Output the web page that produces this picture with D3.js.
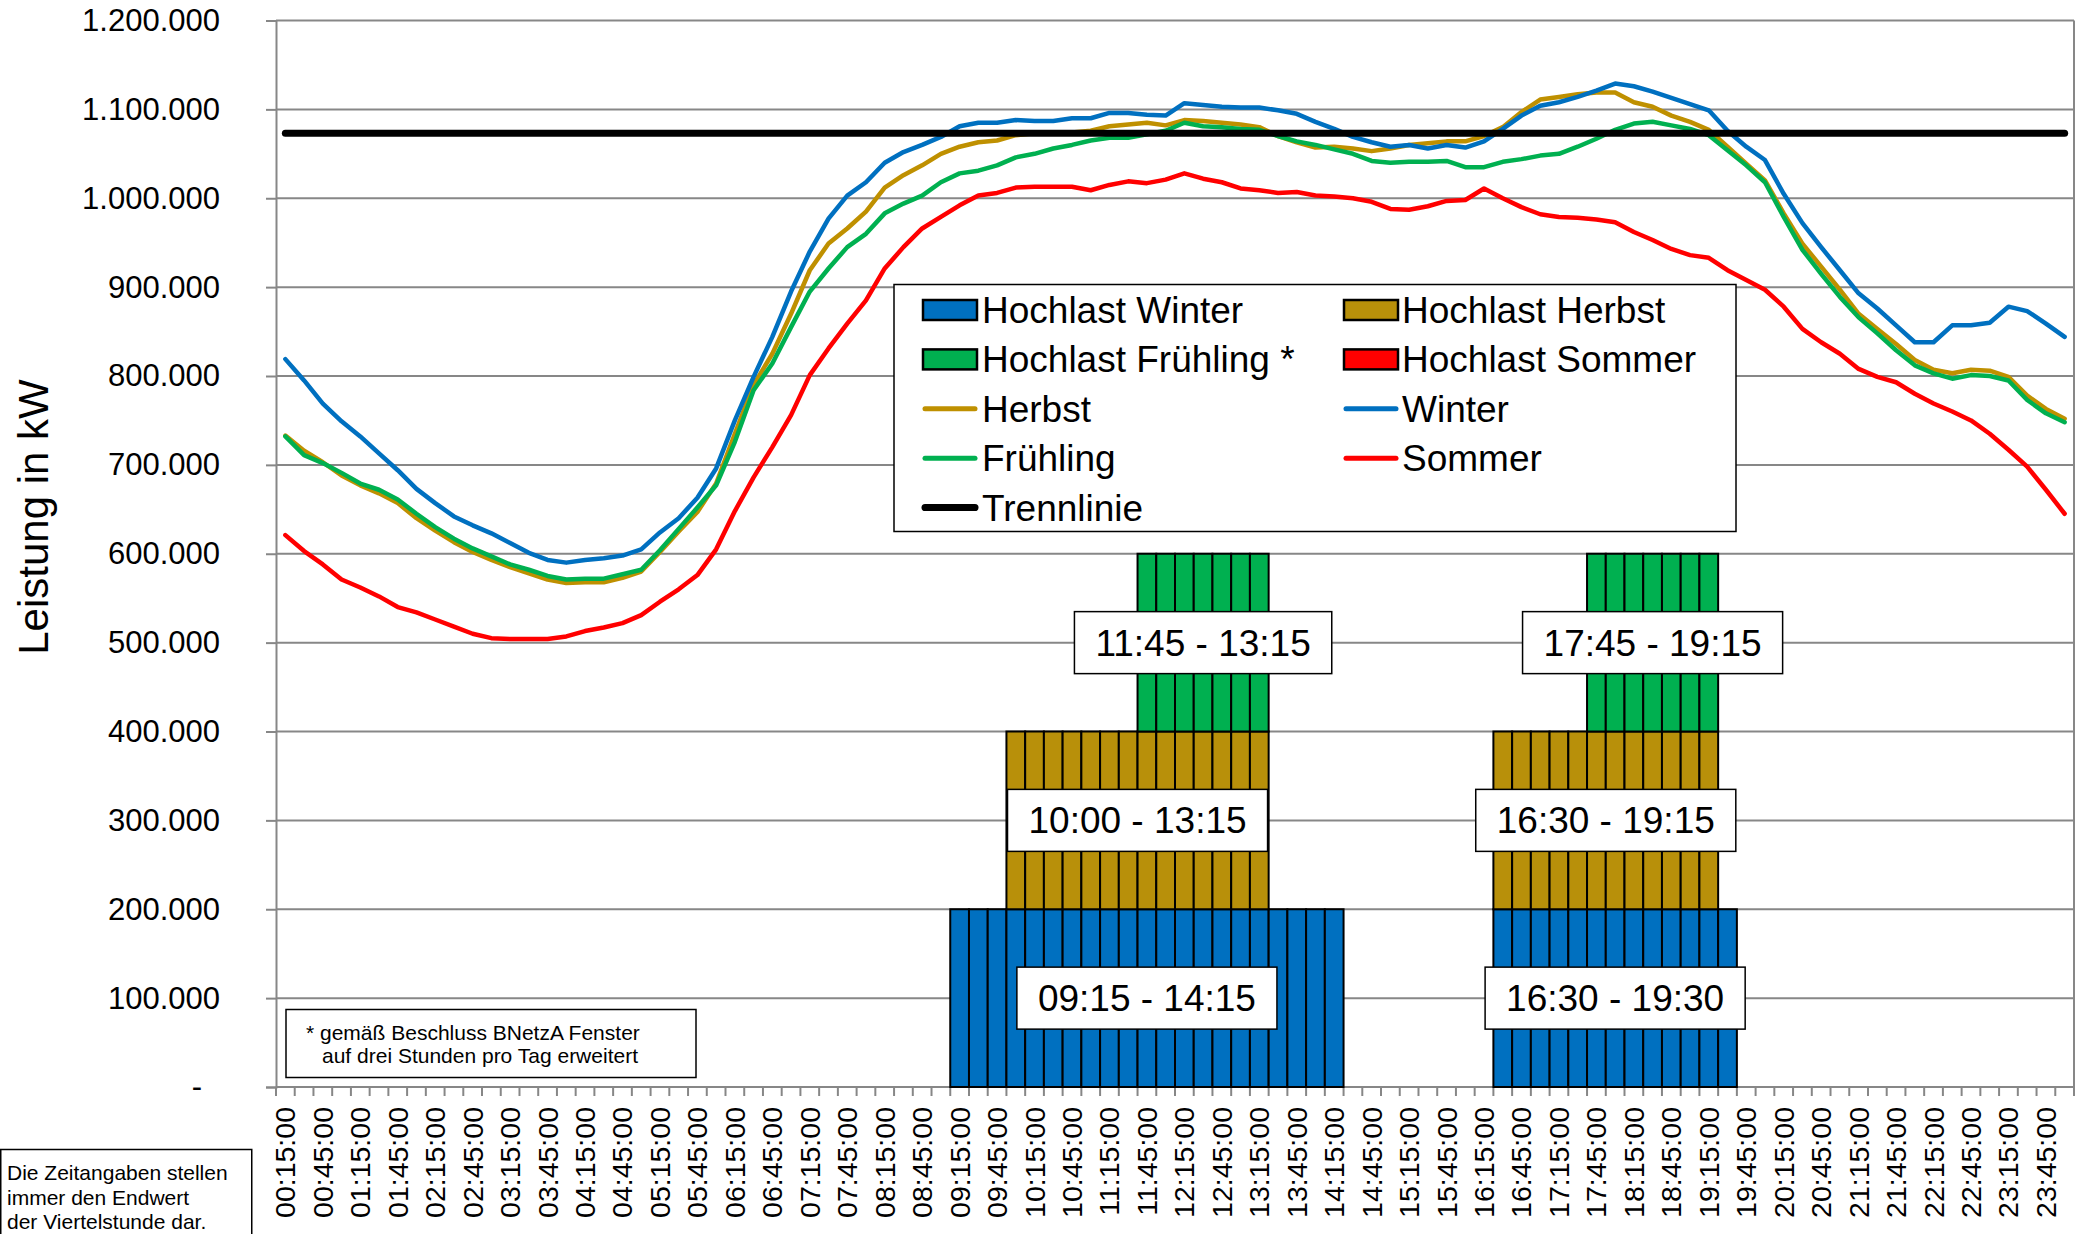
<!DOCTYPE html>
<html><head><meta charset="utf-8">
<script src="https://cdn.jsdelivr.net/npm/d3@7"></script>
<style>
html,body{margin:0;padding:0;background:#fff;}
svg{display:block;font-family:"Liberation Sans",Arial,sans-serif;}
</style></head><body>
<svg id="chart" width="2093" height="1234"></svg>
<script>
// ---------- DATA ----------
const categories = [
"00:15:00","00:30:00","00:45:00","01:00:00","01:15:00","01:30:00","01:45:00","02:00:00",
"02:15:00","02:30:00","02:45:00","03:00:00","03:15:00","03:30:00","03:45:00","04:00:00",
"04:15:00","04:30:00","04:45:00","05:00:00","05:15:00","05:30:00","05:45:00","06:00:00",
"06:15:00","06:30:00","06:45:00","07:00:00","07:15:00","07:30:00","07:45:00","08:00:00",
"08:15:00","08:30:00","08:45:00","09:00:00","09:15:00","09:30:00","09:45:00","10:00:00",
"10:15:00","10:30:00","10:45:00","11:00:00","11:15:00","11:30:00","11:45:00","12:00:00",
"12:15:00","12:30:00","12:45:00","13:00:00","13:15:00","13:30:00","13:45:00","14:00:00",
"14:15:00","14:30:00","14:45:00","15:00:00","15:15:00","15:30:00","15:45:00","16:00:00",
"16:15:00","16:30:00","16:45:00","17:00:00","17:15:00","17:30:00","17:45:00","18:00:00",
"18:15:00","18:30:00","18:45:00","19:00:00","19:15:00","19:30:00","19:45:00","20:00:00",
"20:15:00","20:30:00","20:45:00","21:00:00","21:15:00","21:30:00","21:45:00","22:00:00",
"22:15:00","22:30:00","22:45:00","23:00:00","23:15:00","23:30:00","23:45:00","00:00:00"];

const yTickValues = [0,100000,200000,300000,400000,500000,600000,700000,800000,900000,1000000,1100000,1200000];
const yTickLabels = ["-","100.000","200.000","300.000","400.000","500.000","600.000","700.000","800.000","900.000","1.000.000","1.100.000","1.200.000"];

const winter = [
819000,795000,769000,749000,732000,713000,694000,673000,657000,642000,632000,623000,
612000,601000,593000,590000,593000,595000,598000,605000,624000,640000,663000,696000,
750000,799000,844000,895000,940000,977000,1003000,1018000,1040000,1052000,1060000,1069000,
1081000,1085000,1085000,1088000,1087000,1087000,1090000,1090000,1096000,1096000,1094000,1093000,
1107000,1105000,1103000,1102000,1102000,1099000,1095000,1086000,1078000,1069000,1063000,1058000,
1060000,1056000,1060000,1057000,1064000,1078000,1093000,1104000,1108000,1114000,1121000,1129000,
1126000,1120000,1113000,1106000,1099000,1076000,1058000,1043000,1005000,972000,945000,919000,
893000,876000,857000,838000,838000,857000,857000,860000,878000,873000,859000,844000];

const herbst = [
733000,716000,703000,688000,677000,668000,657000,640000,626000,613000,602000,593000,
585000,578000,571000,567000,568000,568000,573000,580000,602000,625000,647000,679000,
735000,790000,825000,870000,919000,949000,966000,985000,1012000,1026000,1037000,1050000,
1058000,1063000,1065000,1071000,1073000,1073000,1074000,1076000,1081000,1083000,1085000,1082000,
1088000,1087000,1085000,1083000,1080000,1070000,1063000,1057000,1058000,1056000,1053000,1056000,
1060000,1062000,1064000,1064000,1070000,1080000,1097000,1111000,1114000,1117000,1119000,1119000,
1108000,1103000,1093000,1086000,1077000,1058000,1039000,1020000,983000,949000,923000,897000,
870000,853000,836000,818000,807000,803000,807000,806000,799000,778000,763000,752000];

const fruehling = [
732000,711000,702000,691000,679000,672000,661000,645000,630000,617000,606000,597000,
588000,582000,575000,571000,572000,572000,577000,582000,604000,628000,652000,677000,
726000,784000,814000,855000,895000,921000,945000,960000,983000,994000,1003000,1018000,
1028000,1031000,1037000,1046000,1050000,1056000,1060000,1065000,1068000,1068000,1072000,1076000,
1085000,1081000,1080000,1078000,1077000,1070000,1064000,1060000,1055000,1050000,1042000,1040000,
1041000,1041000,1042000,1035000,1035000,1041000,1044000,1048000,1050000,1058000,1067000,1077000,
1084000,1086000,1082000,1078000,1071000,1054000,1037000,1018000,979000,942000,915000,889000,
866000,848000,829000,812000,803000,797000,801000,800000,795000,773000,758000,748000];

const sommer = [
621000,603000,588000,571000,562000,552000,540000,534000,526000,518000,510000,505000,
504000,504000,504000,507000,513000,517000,522000,531000,546000,560000,576000,605000,
648000,686000,720000,756000,801000,831000,859000,885000,921000,945000,966000,979000,
992000,1003000,1006000,1012000,1013000,1013000,1013000,1009000,1015000,1019000,1017000,1021000,
1028000,1022000,1018000,1011000,1009000,1006000,1007000,1003000,1002000,1000000,996000,988000,
987000,991000,997000,998000,1011000,1000000,990000,982000,979000,978000,976000,973000,
962000,953000,943000,936000,933000,919000,908000,897000,878000,853000,838000,825000,
808000,799000,793000,780000,769000,760000,750000,735000,717000,698000,672000,645000];

const trennlinie = 1073000;

const hochlastWinter = [
0,0,0,0,0,0,0,0,0,0,0,0,
0,0,0,0,0,0,0,0,0,0,0,0,
0,0,0,0,0,0,0,0,0,0,0,0,
200000,200000,200000,200000,200000,200000,200000,200000,200000,200000,200000,200000,
200000,200000,200000,200000,200000,200000,200000,200000,200000,0,0,0,
0,0,0,0,0,200000,200000,200000,200000,200000,200000,200000,
200000,200000,200000,200000,200000,200000,0,0,0,0,0,0,
0,0,0,0,0,0,0,0,0,0,0,0];

const hochlastHerbst = [
0,0,0,0,0,0,0,0,0,0,0,0,
0,0,0,0,0,0,0,0,0,0,0,0,
0,0,0,0,0,0,0,0,0,0,0,0,
0,0,0,200000,200000,200000,200000,200000,200000,200000,200000,200000,
200000,200000,200000,200000,200000,0,0,0,0,0,0,0,
0,0,0,0,0,200000,200000,200000,200000,200000,200000,200000,
200000,200000,200000,200000,200000,0,0,0,0,0,0,0,
0,0,0,0,0,0,0,0,0,0,0,0];

const hochlastFruehling = [
0,0,0,0,0,0,0,0,0,0,0,0,
0,0,0,0,0,0,0,0,0,0,0,0,
0,0,0,0,0,0,0,0,0,0,0,0,
0,0,0,0,0,0,0,0,0,0,200000,200000,
200000,200000,200000,200000,200000,0,0,0,0,0,0,0,
0,0,0,0,0,0,0,0,0,0,200000,200000,
200000,200000,200000,200000,200000,0,0,0,0,0,0,0,
0,0,0,0,0,0,0,0,0,0,0,0];

const hochlastSommer = [
0,0,0,0,0,0,0,0,0,0,0,0,
0,0,0,0,0,0,0,0,0,0,0,0,
0,0,0,0,0,0,0,0,0,0,0,0,
0,0,0,0,0,0,0,0,0,0,0,0,
0,0,0,0,0,0,0,0,0,0,0,0,
0,0,0,0,0,0,0,0,0,0,0,0,
0,0,0,0,0,0,0,0,0,0,0,0,
0,0,0,0,0,0,0,0,0,0,0,0];

const barSeriesNames = ["Hochlast Winter","Hochlast Herbst","Hochlast Frühling *","Hochlast Sommer"];
const lineSeriesNames = ["Herbst","Winter","Frühling","Sommer"];

const barLabels = [
  {series:"Hochlast Winter",     from:"09:15:00", to:"14:15:00", text:"09:15 - 14:15"},
  {series:"Hochlast Herbst",     from:"10:00:00", to:"13:15:00", text:"10:00 - 13:15"},
  {series:"Hochlast Frühling *", from:"11:45:00", to:"13:15:00", text:"11:45 - 13:15"},
  {series:"Hochlast Winter",     from:"16:30:00", to:"19:30:00", text:"16:30 - 19:30"},
  {series:"Hochlast Herbst",     from:"16:30:00", to:"19:15:00", text:"16:30 - 19:15"},
  {series:"Hochlast Frühling *", from:"17:45:00", to:"19:15:00", text:"17:45 - 19:15"}
];

const legendOrder = ["Hochlast Winter","Hochlast Herbst","Hochlast Frühling *","Hochlast Sommer",
                     "Herbst","Winter","Frühling","Sommer","Trennlinie"];

const footnote1 = ["* gemäß Beschluss BNetzA Fenster", "auf drei Stunden pro Tag erweitert"];
const footnote2 = ["Die Zeitangaben stellen", "immer den Endwert", "der Viertelstunde dar."];
const yAxisTitle = "Leistung in kW";

// ---------- STYLE ----------
const colors = {
  "Hochlast Winter":"#0070C0","Hochlast Herbst":"#B8900A","Hochlast Frühling *":"#00B050","Hochlast Sommer":"#FF0000",
  "Herbst":"#BF9000","Winter":"#0070C0","Frühling":"#00B050","Sommer":"#FF0000","Trennlinie":"#000000"
};
const gridColor = "#878787";
const FONT = '"Liberation Sans", Arial, sans-serif';

// ---------- CHART ----------
const svg = d3.select("#chart");
svg.append("rect").attr("width",2093).attr("height",1234).attr("fill","#fff");

const plotL = 276, plotR = 2074, plotT = 20.5, plotB = 1087;
const x = d3.scaleBand().domain(categories).range([plotL, plotR]).paddingInner(0).paddingOuter(0);
const y = d3.scaleLinear().domain([0, 1200000]).range([plotB, plotT]);
const bw = x.bandwidth();
const cx = c => x(c) + bw / 2;

// gridlines
svg.append("g").selectAll("line").data(yTickValues).join("line")
  .attr("x1", plotL).attr("x2", plotR)
  .attr("y1", d => y(d)).attr("y2", d => y(d))
  .attr("stroke", gridColor).attr("stroke-width", 2);
// right border
svg.append("line").attr("x1", plotR).attr("x2", plotR).attr("y1", y(1200000)).attr("y2", y(0))
  .attr("stroke", gridColor).attr("stroke-width", 2);

// y axis
const yAxis = d3.axisLeft(y).tickValues(yTickValues).tickFormat((d, i) => yTickLabels[i])
  .tickSize(10).tickPadding(46);
const gy = svg.append("g").attr("transform", `translate(${plotL},0)`).call(yAxis);
gy.select(".domain").attr("stroke", gridColor).attr("stroke-width", 2);
gy.selectAll(".tick line").attr("stroke", gridColor).attr("stroke-width", 2);
gy.selectAll(".tick text").attr("font-size", 31).attr("font-family", FONT).attr("fill", "#000")
  .attr("dx", d => d === 0 ? -18 : 0);

// x axis labels (every second category)
const xAxis = d3.axisBottom(x).tickValues(categories.filter((c, i) => i % 2 === 0)).tickSize(0);
const gx = svg.append("g").attr("transform", `translate(0,${plotB})`).call(xAxis);
gx.select(".domain").remove();
gx.selectAll(".tick text")
  .attr("transform", "rotate(-90)").attr("x", -20).attr("y", 0).attr("dy", "0.35em")
  .attr("text-anchor", "end").attr("font-size", 28.5).attr("font-family", FONT).attr("fill", "#000");
// x boundary ticks
const boundaries = categories.map(c => x(c)).concat([x(categories[categories.length - 1]) + bw]);
svg.append("g").selectAll("line").data(boundaries).join("line")
  .attr("x1", d => d).attr("x2", d => d).attr("y1", plotB).attr("y2", plotB + 9)
  .attr("stroke", gridColor).attr("stroke-width", 2);

// y axis title
svg.append("text").attr("transform", `translate(48,517) rotate(-90)`)
  .attr("text-anchor", "middle").attr("font-size", 42).attr("font-family", FONT).text(yAxisTitle);

// stacked bars
const barRows = categories.map((c, i) => ({
  cat: c,
  "Hochlast Winter": hochlastWinter[i],
  "Hochlast Herbst": hochlastHerbst[i],
  "Hochlast Frühling *": hochlastFruehling[i],
  "Hochlast Sommer": hochlastSommer[i]
}));
const stacked = d3.stack().keys(barSeriesNames)(barRows);
const gBars = svg.append("g");
stacked.forEach(s => {
  gBars.selectAll(null).data(s.filter(d => d[1] - d[0] > 0)).join("rect")
    .attr("x", d => x(d.data.cat)).attr("width", bw)
    .attr("y", d => y(d[1])).attr("height", d => y(d[0]) - y(d[1]))
    .attr("fill", colors[s.key]).attr("stroke", "#000").attr("stroke-width", 2);
});

// lines
const lineData = {"Herbst": herbst, "Winter": winter, "Frühling": fruehling, "Sommer": sommer};
const line = d3.line().x((d, i) => cx(categories[i])).y(d => y(d));
lineSeriesNames.forEach(n => {
  svg.append("path").datum(lineData[n]).attr("d", line)
    .attr("fill", "none").attr("stroke", colors[n]).attr("stroke-width", 4.5)
    .attr("stroke-linejoin", "round").attr("stroke-linecap", "round");
});
// Trennlinie
svg.append("line")
  .attr("x1", cx(categories[0])).attr("x2", cx(categories[categories.length - 1]))
  .attr("y1", y(trennlinie)).attr("y2", y(trennlinie))
  .attr("stroke", colors["Trennlinie"]).attr("stroke-width", 7).attr("stroke-linecap", "round");

// bar labels
const gLab = svg.append("g");
barLabels.forEach(l => {
  const s = stacked.find(k => k.key === l.series);
  const idx = categories.indexOf(l.from);
  const seg = s[idx];
  const mx = (x(l.from) + x(l.to) + bw) / 2;
  const my = y((seg[0] + seg[1]) / 2);
  const g = gLab.append("g");
  const rect = g.append("rect");
  const t = g.append("text").attr("x", mx).attr("y", my).attr("dy", "0.35em")
    .attr("text-anchor", "middle").attr("font-size", 37).attr("font-family", FONT).text(l.text);
  const tw = t.node().getComputedTextLength();
  rect.attr("x", mx - tw / 2 - 21).attr("y", my - 31).attr("width", tw + 42).attr("height", 62)
    .attr("fill", "#fff").attr("stroke", "#000").attr("stroke-width", 1.5);
});

// legend
const gLeg = svg.append("g");
gLeg.append("rect").attr("x", 894).attr("y", 284.5).attr("width", 842).attr("height", 247)
  .attr("fill", "#fff").attr("stroke", "#000").attr("stroke-width", 1.5);
legendOrder.forEach((name, i) => {
  const col = i % 2, row = Math.floor(i / 2);
  const sx = 923 + col * 421, tx = 982 + col * 420, ry = 310 + row * 49.4;
  if (name.startsWith("Hochlast")) {
    gLeg.append("rect").attr("x", sx).attr("y", ry - 10).attr("width", 54).attr("height", 20)
      .attr("fill", colors[name]).attr("stroke", "#000").attr("stroke-width", 2.5);
  } else {
    gLeg.append("line").attr("x1", sx + 2).attr("x2", sx + 52).attr("y1", ry).attr("y2", ry)
      .attr("stroke", colors[name]).attr("stroke-width", name === "Trennlinie" ? 7 : 5)
      .attr("stroke-linecap", "round");
  }
  gLeg.append("text").attr("x", tx).attr("y", ry).attr("dy", "0.35em")
    .attr("font-size", 37).attr("font-family", FONT).text(name);
});

// footnote 1
svg.append("rect").attr("x", 286).attr("y", 1009.5).attr("width", 410).attr("height", 68)
  .attr("fill", "#fff").attr("stroke", "#000").attr("stroke-width", 1.5);
svg.append("text").attr("x", 306).attr("y", 1040).attr("font-size", 21).attr("font-family", FONT).text(footnote1[0]);
svg.append("text").attr("x", 322).attr("y", 1063).attr("font-size", 21).attr("font-family", FONT).text(footnote1[1]);

// footnote 2
svg.append("rect").attr("x", 0.75).attr("y", 1149.5).attr("width", 251).attr("height", 100)
  .attr("fill", "#fff").attr("stroke", "#000").attr("stroke-width", 1.5);
footnote2.forEach((t, i) => {
  svg.append("text").attr("x", 7).attr("y", 1180 + i * 24.5).attr("font-size", 21)
    .attr("font-family", FONT).text(t);
});
</script>
</body></html>
